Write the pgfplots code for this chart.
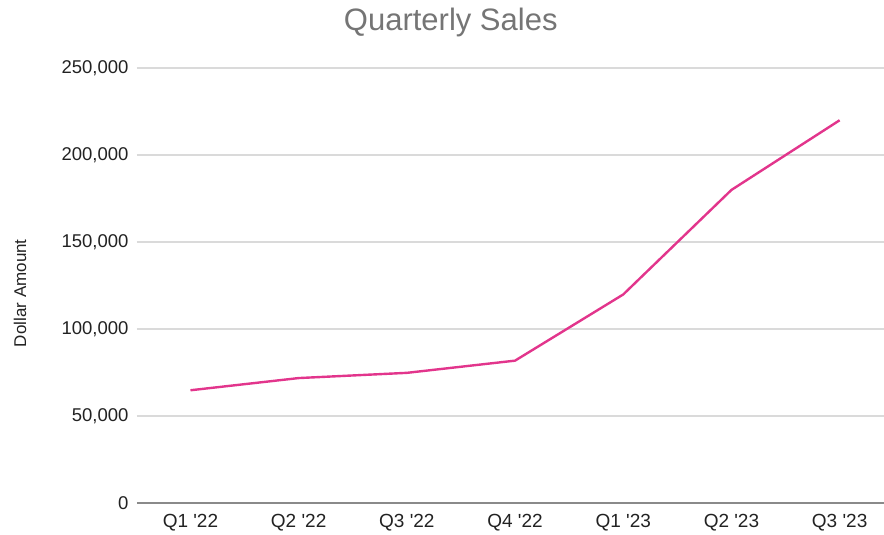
\documentclass[border=0pt]{standalone}
\usepackage{pgfplots}
\pgfplotsset{compat=1.18}
\usepackage{fontspec}
\setmainfont{Liberation Sans}
\definecolor{linepink}{HTML}{E2358C}
\definecolor{gridgray}{HTML}{DADADA}
\definecolor{axisgray}{HTML}{8A8A8A}
\definecolor{titlegray}{HTML}{757575}
\definecolor{ticktext}{HTML}{222222}
\begin{document}
\begin{tikzpicture}
\begin{axis}[
  name=ax,
  scale only axis,
  width=747pt, height=435.5pt,
  xmin=-0.494, xmax=6.41,
  ymin=0, ymax=250000,
  xtick={0,1,2,3,4,5,6},
  xticklabels={Q1 \textquotesingle22, Q2 \textquotesingle22, Q3 \textquotesingle22, Q4 \textquotesingle22, Q1 \textquotesingle23, Q2 \textquotesingle23, Q3 \textquotesingle23},
  ytick={0,50000,100000,150000,200000,250000},
  yticklabels={0, 50{,}000, 100{,}000, 150{,}000, 200{,}000, 250{,}000},
  scaled y ticks=false,
  axis line style={draw=none},
  tick style={draw=none},
  ymajorgrids,
  grid style={gridgray, line width=1.8pt},
  tick label style={text=ticktext},
  yticklabel style={font=\fontsize{18.5}{21}\selectfont, anchor=east, xshift=-5pt},
  xticklabel style={font=\fontsize{19}{22}\selectfont, anchor=north, yshift=-7pt},
  title={Quarterly Sales},
  title style={font=\fontsize{31}{36}\selectfont, text=titlegray, at={(axis description cs:0.42,1)}, anchor=center, yshift=40pt},
  ylabel={Dollar Amount},
  every axis y label/.style={at={(axis description cs:0,0.483)}, rotate=90, anchor=center, yshift=117pt, font=\fontsize{17}{20}\selectfont, text=ticktext},
]
\draw[axisgray, line width=2pt] (rel axis cs:0,0) -- (rel axis cs:1,0);
\addplot[linepink, line width=2.4pt, line join=round] coordinates {
  (0,65000) (1,72000) (2,75000) (3,82000) (4,120000) (5,180000) (6,220000)
};
\end{axis}
\pgfresetboundingbox
\path[use as bounding box] ([xshift=-137pt,yshift=-31.5pt]ax.south west) rectangle ([yshift=68pt]ax.north east);
\end{tikzpicture}
\end{document}
